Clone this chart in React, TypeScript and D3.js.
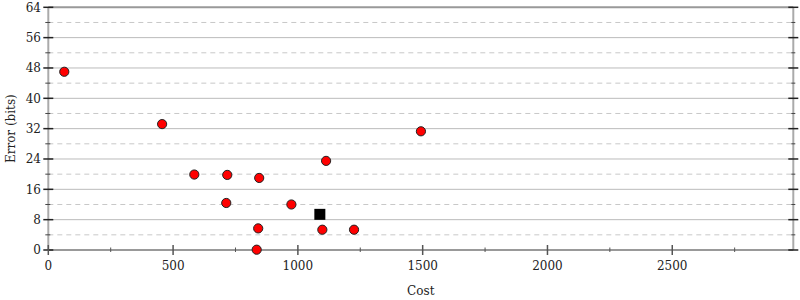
import React from "react";
import * as d3 from "d3";

const costs = [64, 456, 585, 717, 845, 713, 974, 1113, 1493, 841, 1098, 1225, 835];
const errors = [47.0, 33.2, 19.9, 19.8, 19.0, 12.4, 12.0, 23.5, 31.3, 5.7, 5.35, 5.35, 0.08];
const baseCost = [1088];
const baseError = [9.4];
const xMajor = [0, 500, 1000, 1500, 2000, 2500];
const xMinor = [250, 750, 1250, 1750, 2250, 2750];
const yMajor = [0, 8, 16, 24, 32, 40, 48, 56, 64];
const yMinor = [4, 12, 20, 28, 36, 44, 52, 60];

const W = 800, H = 300;
const L = 48.3, R = 793.3, T = 7.3, B = 250;
const textStyle: React.CSSProperties = { fontFamily: '"DejaVu Serif"', fontSize: "12px" };

export default function App() {
  const x = d3.scaleLinear().domain([0, 2985]).range([L, R]);
  const y = d3.scaleLinear().domain([0, 64]).range([B, T]);
  return (
    <svg width={W} height={H} style={{ position: "absolute", left: 0, top: 0, background: "#fff" }}>
      {yMinor.map((v) => (
        <line key={"gm" + v} x1={L} x2={R} y1={y(v)} y2={y(v)} stroke="#c8c8c8" strokeWidth={1} strokeDasharray="5,4" />
      ))}
      {yMajor.filter((v) => v > 0 && v < 64).map((v) => (
        <line key={"gM" + v} x1={L} x2={R} y1={y(v)} y2={y(v)} stroke="#bbb" strokeWidth={1} />
      ))}
      <line x1={L} x2={R} y1={y(64)} y2={y(64)} stroke="#999" strokeWidth={2} />
      <line x1={L} x2={L} y1={T} y2={B} stroke="#aaa" strokeWidth={2} />
      <line x1={R} x2={R} y1={T} y2={B} stroke="#aaa" strokeWidth={2} />
      <line x1={L} x2={R} y1={B} y2={B} stroke="#999" strokeWidth={2} />
      {yMajor.map((v) => (
        <g key={"yt" + v}>
          <line x1={L - 5} x2={L + 5} y1={y(v)} y2={y(v)} stroke="#222" strokeWidth={1.5} />
          <line x1={R - 5} x2={R + 5} y1={y(v)} y2={y(v)} stroke="#222" strokeWidth={1.5} />
          <text x={41} y={y(v)} dy="0.35em" textAnchor="end" style={textStyle} fill="#222">{v}</text>
        </g>
      ))}
      {yMinor.map((v) => (
        <g key={"ytm" + v}>
          <line x1={L - 3} x2={L + 2} y1={y(v)} y2={y(v)} stroke="#444" strokeWidth={1} />
          <line x1={R - 2} x2={R + 2} y1={y(v)} y2={y(v)} stroke="#444" strokeWidth={1} />
        </g>
      ))}
      {xMajor.map((v) => (
        <g key={"xt" + v}>
          <line x1={x(v)} x2={x(v)} y1={B - 5} y2={B + 5} stroke="#555" strokeWidth={1.5} />
          <text x={x(v)} y={270} textAnchor="middle" style={textStyle} fill="#222">{v}</text>
        </g>
      ))}
      {xMinor.map((v) => (
        <line key={"xtm" + v} x1={x(v)} x2={x(v)} y1={B - 2.5} y2={B + 2} stroke="#555" strokeWidth={1} />
      ))}
      <text x={(L + R) / 2} y={295} textAnchor="middle" style={textStyle} fill="#222">Cost</text>
      <text transform={`translate(15,${(T + B) / 2}) rotate(-90)`} textAnchor="middle" style={textStyle} fill="#222">Error (bits)</text>
      {costs.map((c, i) => (
        <circle key={"p" + i} cx={x(c)} cy={y(errors[i])} r={4.6} fill="#f00" stroke="#222" strokeWidth={1} />
      ))}
      {baseCost.map((c, i) => (
        <rect key={"b" + i} x={x(c) - 5.5} y={y(baseError[i]) - 5.5} width={11} height={11} fill="#000" />
      ))}
    </svg>
  );
}
